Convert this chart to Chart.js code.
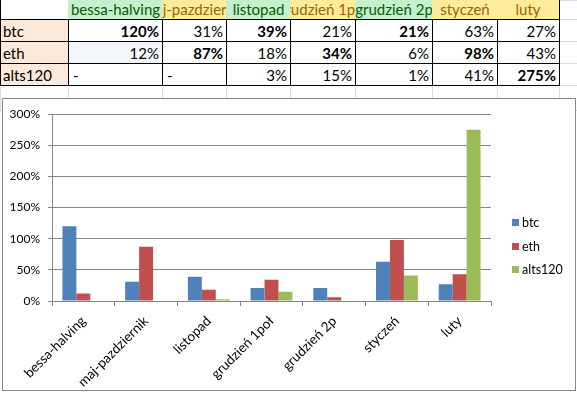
<!DOCTYPE html>
<html>
<head>
<meta charset="utf-8">
<script src="https://cdn.jsdelivr.net/npm/chart.js@4.4.0/dist/chart.umd.min.js"></script>
<style>
  body { margin: 0; width: 577px; height: 394px; overflow: hidden; background: #fff; position: relative; font-family: Lato, "Liberation Sans", sans-serif; }
  .c { position: absolute; box-sizing: border-box; display: flex; align-items: flex-end; white-space: nowrap; overflow: hidden; font-size: 15px; line-height: 18px; color: #000; padding-bottom: 1px; }
  #box { position: absolute; left: 2px; top: 98px; width: 574px; height: 293px; box-sizing: border-box; border: 1px solid #868686; background: #fff; }
  canvas { display: block; }
</style>
</head>
<body>
<div id="sheet"></div>
<div id="box"><canvas id="chart" width="572" height="291"></canvas></div>
<script>
  // values read from the sheet (percent)
  var categories = ["bessa-halving", "maj-pazdziernik", "listopad", "grudzień 1poł", "grudzień 2p", "styczeń", "luty"];
  var seriesNames = ["btc", "eth", "alts120"];
  var btc = [120, 31, 39, 21, 21, 63, 27];
  var eth = [12, 87, 18, 34, 6, 98, 43];
  var alts120 = [null, null, 3, 15, 1, 41, 275];
  var yTicks = [0, 50, 100, 150, 200, 250, 300];
  var boldCells = ["0-0", "0-2", "0-4", "1-1", "1-3", "1-5", "2-6"];
  var headerTone = ["g", "y", "g", "y", "g", "y", "y"];

  // ---- spreadsheet part ----
  var colX = [0, 68, 162, 226, 290, 355, 432, 497, 559, 610];
  var rowY = [0, 19, 41, 63, 85, 110];
  var sheet = document.getElementById("sheet");
  var rows = [btc, eth, alts120];

  function cell(r, c, text, st) {
    var d = document.createElement("div");
    d.className = "c";
    d.style.left = colX[c] + "px";
    d.style.top = rowY[r] + "px";
    d.style.width = colX[c + 1] - colX[c] + 1 + "px";
    d.style.height = rowY[r + 1] - rowY[r] + 1 + "px";
    for (var k in st) d.style[k] = st[k];
    if (text !== "") {
      var s = document.createElement("span");
      s.textContent = text;
      d.appendChild(s);
    }
    sheet.appendChild(d);
    return d;
  }

  // light grid everywhere
  for (var r = 0; r < 5; r++)
    for (var c = 0; c < 9; c++)
      cell(r, c, "", { border: "1px solid #dadcdd" });

  // header
  cell(0, 0, "", { borderRight: "1px solid #000", borderLeft: "1px solid #000", borderBottom: "1px solid #000", background: "#fff" });
  categories.forEach(function (name, i) {
    var g = headerTone[i] === "g";
    cell(0, i + 1, name, {
      background: g ? "#c6efce" : "#ffeb9c",
      color: g ? "#006100" : "#9c6500",
      justifyContent: "center",
      borderBottom: "1px solid #000",
      borderRight: i === categories.length - 1 ? "1px solid #000" : "none"
    });
  });

  // body rows
  rows.forEach(function (vals, r) {
    cell(r + 1, 0, seriesNames[r], { background: "#fde9d9", border: "1px solid #000", paddingLeft: "2px" });
    vals.forEach(function (v, i) {
      var st = { border: "1px solid #000", background: (r === 1 && i === 0) ? "#f3f7fc" : "#fff" };
      if (v === null) {
        st.paddingLeft = "4px";
        cell(r + 1, i + 1, "-", st);
      } else {
        st.justifyContent = "flex-end";
        st.paddingRight = "3px";
        if (boldCells.indexOf(r + "-" + i) >= 0) st.fontWeight = "bold";
        cell(r + 1, i + 1, v + "%", st);
      }
    });
  });

  // ---- chart part ----
  Chart.defaults.font.family = "Lato, 'Liberation Sans', sans-serif";
  Chart.defaults.font.size = 12;
  Chart.defaults.color = "#000";

  var colors = ["#4f81bd", "#c0504d", "#9bbb59"];
  var axisGrey = "#868686";

  var sideLegend = {
    id: "sideLegend",
    afterDraw: function (chart) {
      var ctx = chart.ctx, a = chart.chartArea;
      var sets = chart.data.datasets;
      var gap = 23.4;
      var x = a.right + 21;
      var y = chart.height / 2 + 1.5 - gap * (sets.length - 1) / 2;
      ctx.save();
      ctx.font = "12.5px Lato, 'Liberation Sans', sans-serif";
      ctx.textBaseline = "middle";
      sets.forEach(function (ds) {
        ctx.fillStyle = ds.backgroundColor;
        ctx.fillRect(x, Math.round(y - 3.5), 7, 7);
        ctx.fillStyle = "#000";
        ctx.fillText(ds.label, x + 10, y + 0.5);
        y += gap;
      });
      ctx.restore();
    }
  };

  new Chart(document.getElementById("chart"), {
    type: "bar",
    data: {
      labels: categories,
      datasets: [
        { label: seriesNames[0], data: btc, backgroundColor: colors[0] },
        { label: seriesNames[1], data: eth, backgroundColor: colors[1] },
        { label: seriesNames[2], data: alts120, backgroundColor: colors[2] }
      ]
    },
    options: {
      responsive: false,
      animation: false,
      events: [],
      layout: { padding: { top: 14, right: 84, bottom: 0, left: 0 } },
      datasets: { bar: { categoryPercentage: 0.667, barPercentage: 1 } },
      plugins: { legend: { display: false }, tooltip: { enabled: false } },
      scales: {
        x: {
          afterFit: function (s) { s.height = 89; },
          grid: { drawOnChartArea: false, drawTicks: true, tickLength: 5, color: axisGrey },
          border: { color: axisGrey },
          ticks: { autoSkip: false, minRotation: 45, maxRotation: 45, padding: 7, font: { size: 13.5 } }
        },
        y: {
          min: yTicks[0],
          max: yTicks[yTicks.length - 1],
          afterFit: function (s) { s.width = 49; },
          afterBuildTicks: function (s) { s.ticks = yTicks.map(function (v) { return { value: v }; }); },
          grid: { color: axisGrey, tickLength: 4 },
          border: { color: axisGrey },
          ticks: { padding: 8, callback: function (v) { return v + "%"; } }
        }
      }
    },
    plugins: [sideLegend]
  });
</script>
</body>
</html>
